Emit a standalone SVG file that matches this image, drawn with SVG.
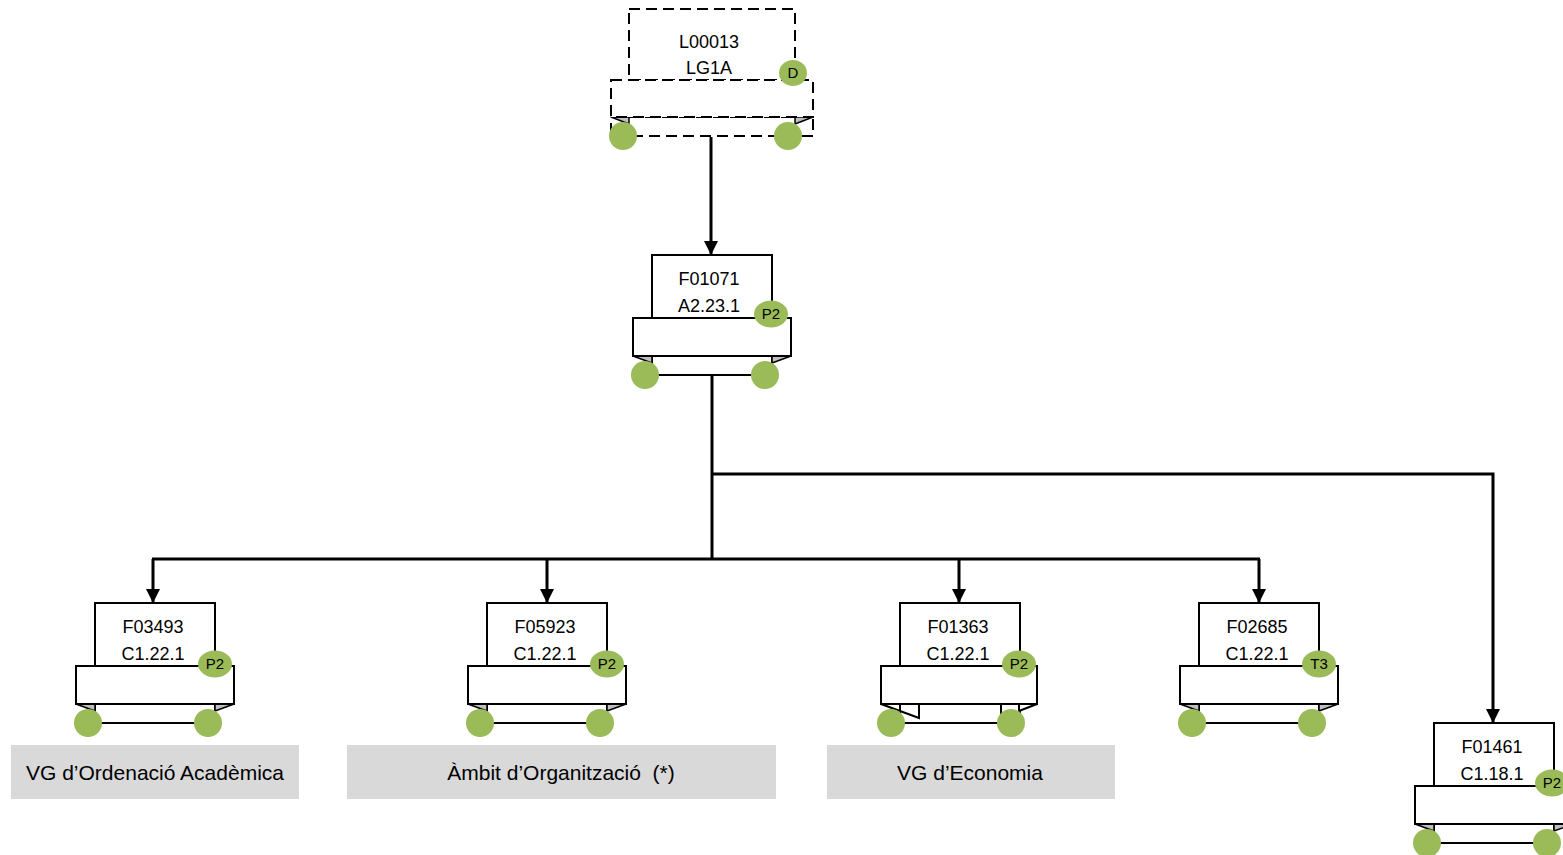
<svg xmlns="http://www.w3.org/2000/svg" width="1563" height="855" viewBox="0 0 1563 855">
<style>
.box{fill:#fff;stroke:#000;stroke-width:2}
.dash{fill:#fff;stroke:#000;stroke-width:2;stroke-dasharray:11 6}
.fold{fill:#bfbfbf;stroke:#000;stroke-width:1.5;stroke-linejoin:round}
.wfold{fill:#fff;stroke:#000;stroke-width:2}
.dot{fill:#9bbb59}
.t{font-family:"Liberation Sans",Arial,sans-serif;font-size:18px;fill:#000;text-anchor:middle}
.b{font-family:"Liberation Sans",Arial,sans-serif;font-size:15px;fill:#000;text-anchor:middle}
.lbl{fill:#d9d9d9}
.lt{font-family:"Liberation Sans",Arial,sans-serif;font-size:21px;fill:#000;text-anchor:middle}
.c{fill:none;stroke:#000;stroke-width:3}
</style>
<defs>
<marker id="ar" markerUnits="userSpaceOnUse" markerWidth="16" markerHeight="16" viewBox="0 0 16 16" refX="14" refY="8" orient="auto">
<path d="M0,1 L14,8 L0,15 Z" fill="#000"/>
</marker>
<g id="nodeShape">
<rect class="box" x="0" y="101" width="120" height="19"/>
<polygon class="fold" points="-19,101 0,101 0,108"/>
<polygon class="fold" points="139,101 120,101 120,108"/>
<rect class="box" x="0" y="0" width="120" height="63"/>
<rect class="box" x="-19" y="63" width="158" height="38"/>
<circle class="dot" cx="-7" cy="120" r="14"/>
<circle class="dot" cx="113" cy="120" r="14"/>
</g>
</defs>

<g id="connectors">
<path class="c" d="M711,137 V255" marker-end="url(#ar)"/>
<path class="c" d="M712,375 V559"/>
<path class="c" d="M152,559 H1260"/>
<path class="c" d="M153,559 V603" marker-end="url(#ar)"/>
<path class="c" d="M547,559 V603" marker-end="url(#ar)"/>
<path class="c" d="M959,559 V603" marker-end="url(#ar)"/>
<path class="c" d="M1259,559 V603" marker-end="url(#ar)"/>
<path class="c" d="M712,474 H1493 V723" marker-end="url(#ar)"/>
</g>

<g id="L00013">
<rect class="dash" x="611" y="117" width="202" height="19" style="fill:none"/>
<polygon class="fold" points="611,117 629,117 629,124"/>
<polygon class="fold" points="813,117 795,117 795,124"/>
<rect class="dash" x="629" y="9" width="166" height="71"/>
<rect class="dash" x="611" y="80" width="202" height="37"/>
<circle class="dot" cx="623" cy="136" r="14"/>
<circle class="dot" cx="788" cy="136" r="14"/>
<text class="t" x="709" y="48">L00013</text>
<text class="t" x="709" y="74">LG1A</text>
<ellipse class="dot" cx="793" cy="73" rx="14" ry="13"/>
<text class="b" x="793" y="78">D</text>
</g>

<g id="F01071" transform="translate(652,255)">
<use href="#nodeShape"/>
<text class="t" x="57" y="30">F01071</text>
<text class="t" x="57" y="57">A2.23.1</text>
<ellipse class="dot" cx="119" cy="59" rx="17" ry="13.5"/>
<text class="b" x="119" y="64">P2</text>
</g>

<g id="F03493" transform="translate(95,603)">
<use href="#nodeShape"/>
<text class="t" x="58" y="30">F03493</text>
<text class="t" x="58" y="57">C1.22.1</text>
<ellipse class="dot" cx="120" cy="61" rx="17" ry="13.5"/>
<text class="b" x="120" y="66">P2</text>
</g>

<g id="F05923" transform="translate(487,603)">
<use href="#nodeShape"/>
<text class="t" x="58" y="30">F05923</text>
<text class="t" x="58" y="57">C1.22.1</text>
<ellipse class="dot" cx="120" cy="61" rx="17" ry="13.5"/>
<text class="b" x="120" y="66">P2</text>
</g>

<g id="F01363" transform="translate(900,603)">
<rect class="box" x="0" y="101" width="120" height="19"/>
<rect class="box" x="0" y="0" width="120" height="63"/>
<rect class="box" x="-19" y="63" width="156" height="38"/>
<polygon class="wfold" points="-19,101 19,101 19,115"/>
<line x1="0" y1="101" x2="0" y2="108" stroke="#000" stroke-width="2"/>
<line x1="101" y1="101" x2="101" y2="120" stroke="#000" stroke-width="2"/>
<polygon class="wfold" points="137,101 119,101 119,108"/>
<circle class="dot" cx="-9" cy="120" r="14"/>
<circle class="dot" cx="111" cy="120" r="14"/>
<text class="t" x="58" y="30">F01363</text>
<text class="t" x="58" y="57">C1.22.1</text>
<ellipse class="dot" cx="119" cy="61" rx="17" ry="13.5"/>
<text class="b" x="119" y="66">P2</text>
</g>

<g id="F02685" transform="translate(1199,603)">
<use href="#nodeShape"/>
<text class="t" x="58" y="30">F02685</text>
<text class="t" x="58" y="57">C1.22.1</text>
<ellipse class="dot" cx="120" cy="61" rx="17" ry="13.5"/>
<text class="b" x="120" y="66">T3</text>
</g>

<g id="F01461" transform="translate(1434,723)">
<use href="#nodeShape"/>
<text class="t" x="58" y="30">F01461</text>
<text class="t" x="58" y="57">C1.18.1</text>
<ellipse class="dot" cx="118" cy="60" rx="17" ry="13.5"/>
<text class="b" x="118" y="65">P2</text>
</g>

<g id="label1">
<rect class="lbl" x="11" y="745" width="288" height="54"/>
<text class="lt" x="155" y="780">VG d’Ordenació Acadèmica</text>
</g>
<g id="label2">
<rect class="lbl" x="347" y="745" width="429" height="54"/>
<text class="lt" x="561" y="780" xml:space="preserve">Àmbit d’Organització  (*)</text>
</g>
<g id="label3">
<rect class="lbl" x="827" y="745" width="288" height="54"/>
<text class="lt" x="970" y="780">VG d’Economia</text>
</g>
</svg>
